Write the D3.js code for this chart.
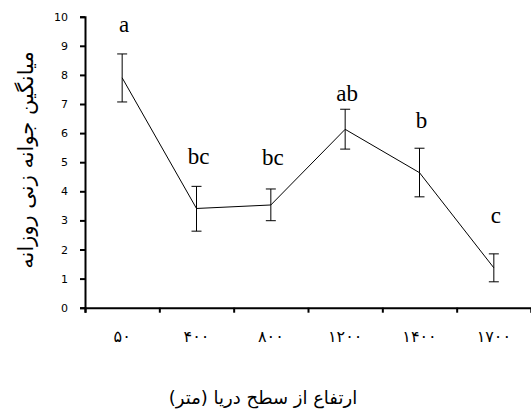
<!DOCTYPE html>
<html><head><meta charset="utf-8">
<script src="https://cdn.jsdelivr.net/npm/d3@7"></script>
<style>body{margin:0;background:#fff}svg{display:block}</style>
</head><body><svg id="c" width="531" height="411"></svg>
<script>
const categories = ["۵۰","۴۰۰","۸۰۰","۱۲۰۰","۱۴۰۰","۱۷۰۰"];
const means = [7.90, 3.41, 3.53, 6.13, 4.64, 1.37];
const upper = [8.72, 4.17, 4.08, 6.82, 5.48, 1.85];
const lower = [7.07, 2.63, 2.99, 5.45, 3.81, 0.89];
const letters = ["a","bc","bc","ab","b","c"];
const letterLevel = [9.47, 4.94, 4.90, 7.11, 6.16, 2.90];
const yTicks = [0,1,2,3,4,5,6,7,8,9,10];
const yTitle = "میانگین جوانه زنی روزانه";
const xTitle = "ارتفاع از سطح دریا (متر)";

const svg = d3.select("#c");
const L = 85, R = 531, T = 16.7, B = 307.7;
const x = d3.scaleBand().domain(categories).range([L, R]).padding(0);
const xb = d3.scaleLinear().domain([0, categories.length]).range([L, R]);
const y = d3.scaleLinear().domain([0, 10]).range([B, T]);

// y axis
const ya = svg.append("g").attr("transform", `translate(${L},0)`)
  .call(d3.axisLeft(y).tickValues(yTicks).tickSize(5).tickPadding(12).tickFormat(d3.format("d")));
ya.select(".domain").attr("stroke", "#000").attr("stroke-width", 2);
ya.selectAll(".tick line").attr("stroke", "#000").attr("stroke-width", 2);
ya.selectAll("text").attr("font-family", "DejaVu Sans, sans-serif").attr("font-size", 11).attr("fill", "#000");

// x axis boundaries
const xa = svg.append("g").attr("transform", `translate(0,${B})`)
  .call(d3.axisBottom(xb).tickValues(d3.range(categories.length + 1)).tickSize(5).tickFormat(""));
xa.select(".domain").attr("stroke", "#000").attr("stroke-width", 2);
xa.selectAll(".tick line").attr("stroke", "#000").attr("stroke-width", 2);

// x labels
const xl = svg.append("g").attr("transform", `translate(0,${B})`)
  .call(d3.axisBottom(x).tickSize(0).tickPadding(23));
xl.select(".domain").remove();
xl.selectAll("text").attr("font-family", "DejaVu Sans, sans-serif").attr("font-size", 16)
  .attr("letter-spacing", 2).attr("fill", "#000");

const cx = d => x(d) + x.bandwidth() / 2;

// line
svg.append("path")
  .datum(categories.map((c, i) => [cx(c), y(means[i])]))
  .attr("fill", "none").attr("stroke", "#000").attr("stroke-width", 1)
  .attr("d", d3.line());

// error bars
const eb = svg.append("g").attr("stroke", "#000").attr("stroke-width", 1);
categories.forEach((c, i) => {
  const X = cx(c);
  eb.append("line").attr("x1", X).attr("x2", X).attr("y1", y(upper[i])).attr("y2", y(lower[i]));
  eb.append("line").attr("x1", X - 5).attr("x2", X + 5).attr("y1", y(upper[i])).attr("y2", y(upper[i]));
  eb.append("line").attr("x1", X - 5).attr("x2", X + 5).attr("y1", y(lower[i])).attr("y2", y(lower[i]));
});

// letters
svg.append("g").selectAll("text").data(categories).join("text")
  .attr("x", d => cx(d) + 2).attr("y", (d, i) => y(letterLevel[i]))
  .attr("text-anchor", "middle")
  .attr("font-family", "Liberation Serif, Times New Roman, serif").attr("font-size", 23)
  .text((d, i) => letters[i]);

// titles
svg.append("text").attr("transform", "translate(27,160) rotate(-90)")
  .attr("text-anchor", "middle").attr("dominant-baseline", "middle")
  .attr("font-family", "DejaVu Sans, sans-serif").attr("font-size", 21)
  .text(yTitle);
svg.append("text").attr("x", 263).attr("y", 399)
  .attr("text-anchor", "middle").attr("dominant-baseline", "middle")
  .attr("font-family", "DejaVu Sans, sans-serif").attr("font-size", 18)
  .text(xTitle);
</script></body></html>
